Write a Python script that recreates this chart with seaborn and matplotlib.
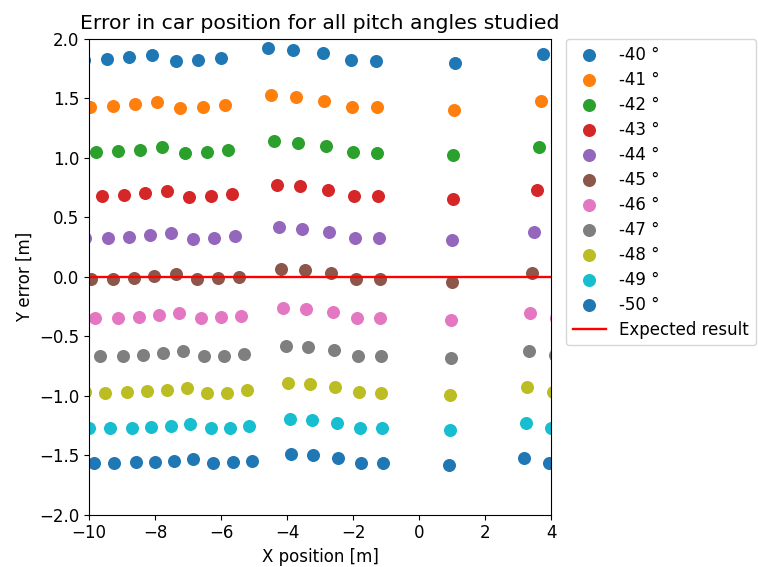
import matplotlib
matplotlib.use("Agg")
import matplotlib.pyplot as plt
import seaborn as sns
import numpy as np
from matplotlib.ticker import MultipleLocator

# ---- data ----
angles = [-40, -41, -42, -43, -44, -45, -46, -47, -48, -49, -50]

x40 = [-10.14, -9.46, -8.80, -8.10, -7.38, -6.70, -6.01, -4.58, -3.82, -2.92, -2.08, -1.31, 1.07, 3.76]
y40 = [1.823, 1.829, 1.846, 1.868, 1.812, 1.821, 1.838, 1.924, 1.908, 1.880, 1.821, 1.815, 1.796, 1.876]

x41 = [-9.96, -9.28, -8.62, -7.95, -7.24, -6.55, -5.89, -4.49, -3.74, -2.87, -2.04, -1.29, 1.06, 3.68]
y41 = [1.431, 1.434, 1.451, 1.473, 1.417, 1.426, 1.443, 1.527, 1.510, 1.481, 1.426, 1.426, 1.400, 1.479]

x42 = [-9.78, -9.11, -8.46, -7.80, -7.10, -6.44, -5.78, -4.40, -3.67, -2.82, -2.00, -1.27, 1.03, 3.62]
y42 = [1.047, 1.056, 1.069, 1.092, 1.041, 1.050, 1.064, 1.142, 1.128, 1.100, 1.047, 1.044, 1.022, 1.096]

x43 = [-9.61, -8.95, -8.30, -7.65, -6.97, -6.32, -5.68, -4.32, -3.61, -2.77, -1.97, -1.24, 1.01, 3.56]
y43 = [0.684, 0.691, 0.703, 0.722, 0.674, 0.682, 0.699, 0.775, 0.761, 0.730, 0.680, 0.680, 0.657, 0.730]

x44 = [-10.13, -9.42, -8.79, -8.16, -7.52, -6.85, -6.21, -5.58, -4.25, -3.54, -2.72, -1.94, -1.21, 0.99, 3.48]
y44 = [0.327, 0.329, 0.335, 0.349, 0.369, 0.321, 0.329, 0.346, 0.419, 0.402, 0.377, 0.327, 0.324, 0.307, 0.375]

x45 = [-9.95, -9.27, -8.64, -8.02, -7.38, -6.73, -6.10, -5.47, -4.18, -3.47, -2.67, -1.90, -1.19, 0.98, 3.42]
y45 = [-0.016, -0.016, -0.007, 0.004, 0.026, -0.021, -0.012, 0.001, 0.070, 0.060, 0.035, -0.016, -0.016, -0.041, 0.031]

x46 = [-9.83, -9.12, -8.49, -7.89, -7.27, -6.62, -6.00, -5.39, -4.12, -3.42, -2.62, -1.87, -1.18, 0.96, 3.36, 4.14]
y46 = [-0.346, -0.343, -0.335, -0.323, -0.306, -0.348, -0.340, -0.327, -0.259, -0.273, -0.298, -0.343, -0.346, -0.365, -0.300, -0.342]

x47 = [-9.67, -8.97, -8.36, -7.76, -7.15, -6.52, -5.91, -5.31, -4.04, -3.36, -2.58, -1.84, -1.16, 0.95, 3.32, 4.10]
y47 = [-0.665, -0.663, -0.654, -0.643, -0.623, -0.668, -0.663, -0.646, -0.584, -0.592, -0.618, -0.663, -0.665, -0.685, -0.621, -0.661]

x48 = [-10.13, -9.52, -8.84, -8.24, -7.65, -7.04, -6.42, -5.82, -5.22, -3.98, -3.31, -2.55, -1.81, -1.15, 0.93, 3.26, 4.05]
y48 = [-0.972, -0.974, -0.971, -0.962, -0.951, -0.935, -0.979, -0.974, -0.954, -0.895, -0.903, -0.929, -0.971, -0.974, -0.993, -0.930, -0.972]

x49 = [-10.01, -9.37, -8.71, -8.12, -7.53, -6.94, -6.32, -5.73, -5.15, -3.91, -3.26, -2.50, -1.78, -1.12, 0.92, 3.22, 3.99]
y49 = [-1.275, -1.273, -1.271, -1.265, -1.254, -1.237, -1.273, -1.271, -1.257, -1.198, -1.206, -1.229, -1.273, -1.273, -1.290, -1.230, -1.273]

x50 = [-9.85, -9.24, -8.58, -7.99, -7.42, -6.84, -6.23, -5.65, -5.07, -3.87, -3.22, -2.46, -1.76, -1.11, 0.91, 3.17, 3.92]
y50 = [-1.568, -1.563, -1.559, -1.554, -1.546, -1.529, -1.568, -1.559, -1.546, -1.489, -1.500, -1.526, -1.563, -1.568, -1.582, -1.523, -1.568]

expected_x = [-10, 4]
expected_y = [0, 0]

xs_all = [x40, x41, x42, x43, x44, x45, x46, x47, x48, x49, x50]
ys_all = [y40, y41, y42, y43, y44, y45, y46, y47, y48, y49, y50]

# ---- plot ----
plt.rcParams["font.size"] = 12
tab10 = sns.color_palette("tab10", 10)
palette = list(tab10) + [tab10[0]]

fig = plt.figure(figsize=(7.58, 5.67), dpi=100)
ax = fig.add_axes([0.1174, 0.0922, 0.6099, 0.839])

for a, xs, ys, c in zip(angles, xs_all, ys_all, palette):
    sns.scatterplot(x=xs, y=ys, color=c, s=88, linewidth=0, label=f"{a} °", ax=ax)

sns.lineplot(x=expected_x, y=expected_y, color="red", linewidth=1.7,
             label="Expected result", ax=ax)

ax.set_xlim(-10, 4)
ax.set_ylim(-2, 2)
ax.xaxis.set_major_locator(MultipleLocator(2))
ax.yaxis.set_major_locator(MultipleLocator(0.5))
ax.set_title("Error in car position for all pitch angles studied", fontsize=14.7, pad=7)
ax.set_xlabel("X position [m]")
ax.set_ylabel("Y error [m]")
ax.legend(loc="upper left", bbox_to_anchor=(1.032, 1.0), borderaxespad=0,
          labelspacing=0.42, handlelength=2.0)

fig.savefig("out.png", dpi=100)
